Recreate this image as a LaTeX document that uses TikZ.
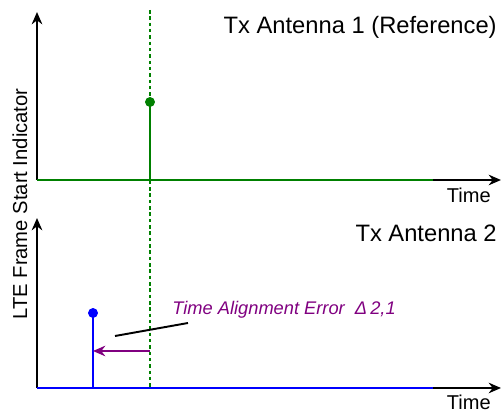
\documentclass[tikz,border=0pt]{standalone}
\usepackage{fontspec}
\setmainfont{Liberation Sans}
\usetikzlibrary{arrows.meta, positioning}
\definecolor{markgreen}{RGB}{0, 128, 0}
\definecolor{markblue}{RGB}{0, 0, 255}
\definecolor{errpurple}{RGB}{128, 0, 128}
\tikzset{
  axis/.style={line width=1.1pt, draw=black, -{Stealth[length=7pt, width=6pt]}},
  baseline/.style={line width=1.3pt},
  stem/.style={line width=1.1pt},
  refline/.style={line width=1.1pt, draw=markgreen, dash pattern=on 2pt off 1.6pt},
  tip/.style={circle, inner sep=0pt, minimum size=5.5pt},
  title/.style={font=\fontsize{13.5}{16}\selectfont, inner sep=0pt, anchor=east},
  timelabel/.style={font=\fontsize{11.4}{13}\selectfont, inner sep=0pt, anchor=east},
  errlabel/.style={font=\fontsize{10.4}{12}\selectfont\itshape, text=errpurple,
    inner sep=0pt, anchor=west},
  errarrow/.style={line width=1.1pt, draw=errpurple, -{Stealth[length=7pt, width=6pt]}}
}
\begin{document}
\begin{tikzpicture}
\useasboundingbox (0,0) rectangle (10.06,8.22);
% upper plot: antenna 1
\coordinate (o1)   at (0.74,4.62);
\coordinate (y1)   at (0.74,7.98);
\coordinate (x1)   at (10.02,4.62);
\coordinate (g1)   at (8.66,4.62);
\coordinate (s1)   at (3.0,4.62);
\node (d1) [tip, fill=markgreen] at (3.0,6.18) {};
% lower plot: antenna 2
\coordinate (o2)   at (0.74,0.46);
\coordinate (y2)   at (0.74,3.86);
\coordinate (x2)   at (10.02,0.46);
\coordinate (b2)   at (8.66,0.46);
\coordinate (s2)   at (1.86,0.46);
\node (d2) [tip, fill=markblue] at (1.86,1.96) {};
% reference instant
\coordinate (rtop) at (3.0,8.02);
\coordinate (rbot) at (3.0,0.46);
\coordinate (ea)   at (3.0,1.2);
\coordinate (eb)   at (1.86,1.2);
\coordinate (la)   at (2.3,1.5);
\coordinate (lb)   at (3.76,1.76);

\draw[axis] (o1) -- (y1);
\draw[axis] (o1) -- (x1);
\draw[baseline, markgreen] (o1) -- (g1);
\draw[axis] (o2) -- (y2);
\draw[axis] (o2) -- (x2);
\draw[baseline, markblue] (o2) -- (b2);

\draw[refline] (rtop) -- (rbot);
\draw[stem, markgreen] (s1) -- (d1.center);
\draw[stem, markblue] (s2) -- (d2.center);
\node (d1b) [tip, fill=markgreen] at (d1) {};
\node (d2b) [tip, fill=markblue] at (d2) {};

\draw[errarrow] (ea) -- (eb);
\draw[line width=1.1pt] (la) -- (lb);

\node (t1)   [title] at (9.94,7.68) {Tx Antenna 1 (Reference)};
\node (t2)   [title] at (9.94,3.56) {Tx Antenna 2};
\node (tm1)  [timelabel] at (9.82,4.32) {Time};
\node (tm2)  [timelabel] at (9.82,0.18) {Time};
\node (ylab) [font=\fontsize{11.5}{13}\selectfont, rotate=90, inner sep=0pt]
  at (0.4,4.14) {LTE Frame Start Indicator};
\node (err)  [errlabel] at (3.44,2.02) {Time Alignment Error\ \ Δ\,2,1};
\end{tikzpicture}
\end{document}
